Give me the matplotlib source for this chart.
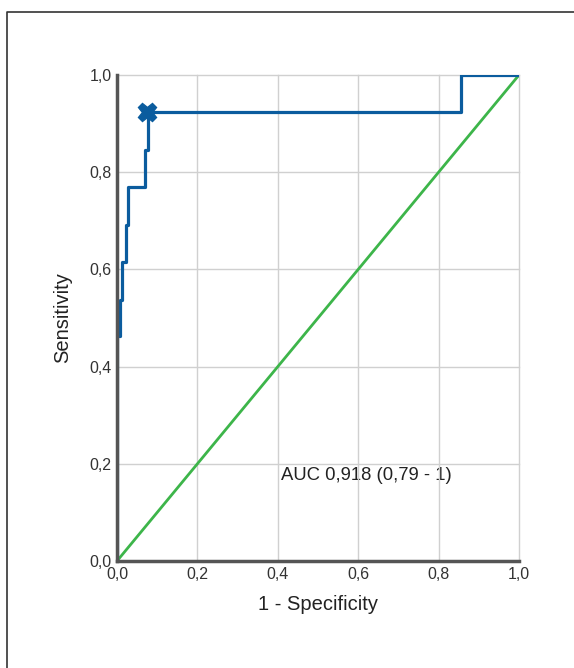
import matplotlib
matplotlib.use("Agg")
import matplotlib.pyplot as plt
from matplotlib.lines import Line2D

plt.rcParams['font.family'] = ['Liberation Sans', 'DejaVu Sans']

# ROC curve points (1 - specificity, sensitivity)
fpr = [0.0, 0.0, 0.007, 0.012, 0.023, 0.027, 0.069, 0.078, 0.856, 1.0]
tpr = [0.0, 0.462, 0.538, 0.615, 0.692, 0.769, 0.846, 0.923, 1.0, 1.0]

# chance line
ref_x = [0.0, 1.0]
ref_y = [0.0, 1.0]

# optimal cut-off
cut_x = 0.074
cut_y = 0.923

auc_text = "AUC 0,918 (0,79 - 1)"
ticks = [0.0, 0.2, 0.4, 0.6, 0.8, 1.0]
tick_labels = ["0,0", "0,2", "0,4", "0,6", "0,8", "1,0"]

blue = "#0b5c9e"
green = "#3db54a"

fig = plt.figure(figsize=(5.74, 6.68), dpi=100)
ax = fig.add_axes([117 / 574, 1 - 561 / 668, 402 / 574, 486 / 668])

# outer frame (only left and top edges fall inside the image)
fig.add_artist(Line2D([7 / 574, 7 / 574, 1.0], [0.0, 1 - 12 / 668, 1 - 12 / 668],
                      transform=fig.transFigure, color="#333333", lw=1.2))

ax.plot(ref_x, ref_y, color=green, lw=2.0, zorder=3)
ax.step(fpr, tpr, where="post", color=blue, lw=2.3, zorder=4)
ax.plot(cut_x, cut_y, marker="X", color=blue, markersize=13, zorder=5)

ax.text(0.408, 0.175, auc_text, fontsize=13.3, color="#222222", ha="left", va="center", zorder=1)

ax.set_xlim(0, 1)
ax.set_ylim(0, 1)
ax.set_xticks(ticks)
ax.set_xticklabels(tick_labels)
ax.set_yticks(ticks)
ax.set_yticklabels(tick_labels)
ax.tick_params(length=0, labelsize=11.5, colors="#333333", pad=4)
ax.grid(True, color="#d0d0d0", lw=1.0, zorder=2)
for gl in ax.get_xgridlines() + ax.get_ygridlines():
    gl.set_clip_on(False)
ax.set_axisbelow(False)

for s in ["top", "right"]:
    ax.spines[s].set_visible(False)
for s in ["left", "bottom"]:
    ax.spines[s].set_color("#555555")
    ax.spines[s].set_linewidth(2.5)
    ax.spines[s].set_zorder(6)

ax.set_xlabel("1 - Specificity", fontsize=14.5, color="#222222", labelpad=10)
ax.set_ylabel("Sensitivity", fontsize=14.5, color="#222222", labelpad=12)

fig.savefig("out.png", dpi=100)
